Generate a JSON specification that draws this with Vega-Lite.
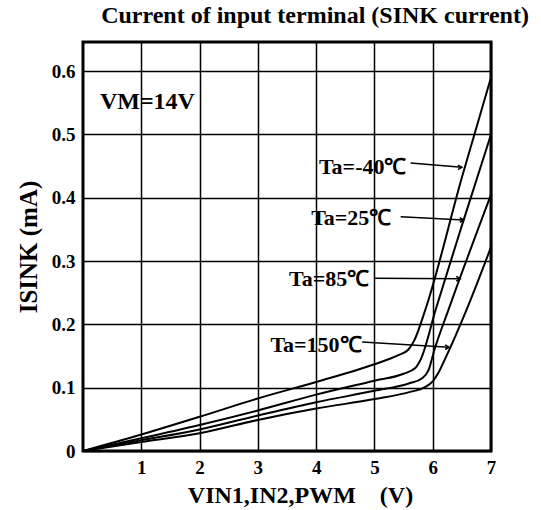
{
  "$schema": "https://vega.github.io/schema/vega-lite/v6.json",
  "width": 408,
  "height": 409,
  "autosize": {"type": "none"},
  "padding": {"left": 83, "top": 42, "right": 50, "bottom": 59},
  "background": "white",
  "title": {"text": "Current of input terminal (SINK current)", "font": "Liberation Serif", "fontSize": 24, "fontWeight": "bold", "color": "black", "anchor": "middle", "dx": 28, "offset": 14, "frame": "group"},
  "config": {"view": {"stroke": "black", "strokeWidth": 3}, "font": "Liberation Serif"},
  "datasets": {
    "curves": [
      {"s": "-40", "v": 0, "i": 0}, {"s": "-40", "v": 1, "i": 0.026}, {"s": "-40", "v": 2, "i": 0.054}, {"s": "-40", "v": 3, "i": 0.083}, {"s": "-40", "v": 4, "i": 0.109}, {"s": "-40", "v": 5, "i": 0.137}, {"s": "-40", "v": 5.4, "i": 0.151}, {"s": "-40", "v": 5.58, "i": 0.16}, {"s": "-40", "v": 5.68, "i": 0.174}, {"s": "-40", "v": 5.88, "i": 0.225}, {"s": "-40", "v": 6.5, "i": 0.432}, {"s": "-40", "v": 7, "i": 0.59},
      {"s": "25", "v": 0, "i": 0}, {"s": "25", "v": 1, "i": 0.02}, {"s": "25", "v": 2, "i": 0.041}, {"s": "25", "v": 3, "i": 0.064}, {"s": "25", "v": 4, "i": 0.089}, {"s": "25", "v": 5, "i": 0.111}, {"s": "25", "v": 5.5, "i": 0.122}, {"s": "25", "v": 5.7, "i": 0.131}, {"s": "25", "v": 5.8, "i": 0.146}, {"s": "25", "v": 6.05, "i": 0.223}, {"s": "25", "v": 6.5, "i": 0.356}, {"s": "25", "v": 7, "i": 0.5},
      {"s": "85", "v": 0, "i": 0}, {"s": "85", "v": 1, "i": 0.017}, {"s": "85", "v": 2, "i": 0.034}, {"s": "85", "v": 3, "i": 0.056}, {"s": "85", "v": 4, "i": 0.077}, {"s": "85", "v": 5, "i": 0.095}, {"s": "85", "v": 5.6, "i": 0.107}, {"s": "85", "v": 5.82, "i": 0.115}, {"s": "85", "v": 5.93, "i": 0.128}, {"s": "85", "v": 6.03, "i": 0.16}, {"s": "85", "v": 6.27, "i": 0.223}, {"s": "85", "v": 7, "i": 0.405},
      {"s": "150", "v": 0, "i": 0}, {"s": "150", "v": 1, "i": 0.014}, {"s": "150", "v": 2, "i": 0.028}, {"s": "150", "v": 3, "i": 0.049}, {"s": "150", "v": 4, "i": 0.067}, {"s": "150", "v": 5, "i": 0.082}, {"s": "150", "v": 5.6, "i": 0.093}, {"s": "150", "v": 5.85, "i": 0.1}, {"s": "150", "v": 6.0, "i": 0.11}, {"s": "150", "v": 6.1, "i": 0.124}, {"s": "150", "v": 6.22, "i": 0.147}, {"s": "150", "v": 6.58, "i": 0.223}, {"s": "150", "v": 7, "i": 0.322}
    ],
    "arrows": [
      {"v": 5.62, "i": 0.455, "v2": 6.5, "i2": 0.448},
      {"v": 5.45, "i": 0.37, "v2": 6.53, "i2": 0.365},
      {"v": 4.99, "i": 0.273, "v2": 6.47, "i2": 0.272},
      {"v": 4.79, "i": 0.172, "v2": 6.28, "i2": 0.164}
    ],
    "heads": [
      {"v": 6.5, "i": 0.448},
      {"v": 6.53, "i": 0.365},
      {"v": 6.47, "i": 0.272},
      {"v": 6.28, "i": 0.164}
    ],
    "labels": [
      {"v": 5.55, "i": 0.449, "t": "Ta=-40℃"},
      {"v": 5.29, "i": 0.368, "t": "Ta=25℃"},
      {"v": 4.91, "i": 0.272, "t": "Ta=85℃"},
      {"v": 4.78, "i": 0.168, "t": "Ta=150℃"}
    ],
    "note": [{"v": 0.29, "i": 0.551, "t": "VM=14V"}]
  },
  "encoding": {
    "x": {"field": "v", "type": "quantitative", "scale": {"domain": [0, 7], "nice": false, "zero": false},
      "axis": {"title": "VIN1,IN2,PWM\u00a0\u00a0\u00a0\u00a0(V)", "values": [1, 2, 3, 4, 5, 6, 7], "grid": true, "gridColor": "black", "gridWidth": 1.5, "gridOpacity": 1, "domain": false, "ticks": false, "labelFlush": false,
        "labelFont": "Liberation Serif", "labelFontSize": 19, "labelFontWeight": "bold", "labelColor": "black", "labelPadding": 7, "labelDx": 4,
        "titleFont": "Liberation Serif", "titleFontSize": 24, "titleFontWeight": "bold", "titleColor": "black", "titlePadding": 6, "titleX": 217}},
    "y": {"field": "i", "type": "quantitative", "scale": {"domain": [0, 0.646], "nice": false},
      "axis": {"title": "ISINK (mA)", "values": [0, 0.1, 0.2, 0.3, 0.4, 0.5, 0.6], "labelExpr": "datum.value == 0 ? '0' : format(datum.value, '.1f')", "grid": true, "gridColor": "black", "gridWidth": 1.5, "gridOpacity": 1, "domain": false, "ticks": false, "labelFlush": false,
        "labelFont": "Liberation Serif", "labelFontSize": 19, "labelFontWeight": "bold", "labelColor": "black", "labelPadding": 8,
        "titleFont": "Liberation Serif", "titleFontSize": 25, "titleFontWeight": "bold", "titleColor": "black", "titlePadding": 10}}
  },
  "layer": [
    {"data": {"name": "curves"}, "mark": {"type": "line", "color": "black", "strokeWidth": 2, "interpolate": "monotone"}, "encoding": {"detail": {"field": "s", "type": "nominal"}}},
    {"data": {"name": "arrows"}, "mark": {"type": "rule", "color": "black", "strokeWidth": 1.5}, "encoding": {"x2": {"field": "v2"}, "y2": {"field": "i2"}}},
    {"data": {"name": "heads"}, "mark": {"type": "point", "shape": "M-1,-0.6L0,0L-1,0.6", "filled": false, "stroke": "black", "strokeWidth": 1.5, "size": 60, "opacity": 1}},
    {"data": {"name": "labels"}, "mark": {"type": "text", "align": "right", "baseline": "middle", "font": "Liberation Serif", "fontSize": 22, "fontWeight": "bold", "color": "black"}, "encoding": {"text": {"field": "t"}}},
    {"data": {"name": "note"}, "mark": {"type": "text", "align": "left", "baseline": "middle", "font": "Liberation Serif", "fontSize": 24, "fontWeight": "bold", "color": "black"}, "encoding": {"text": {"field": "t"}}}
  ]
}
